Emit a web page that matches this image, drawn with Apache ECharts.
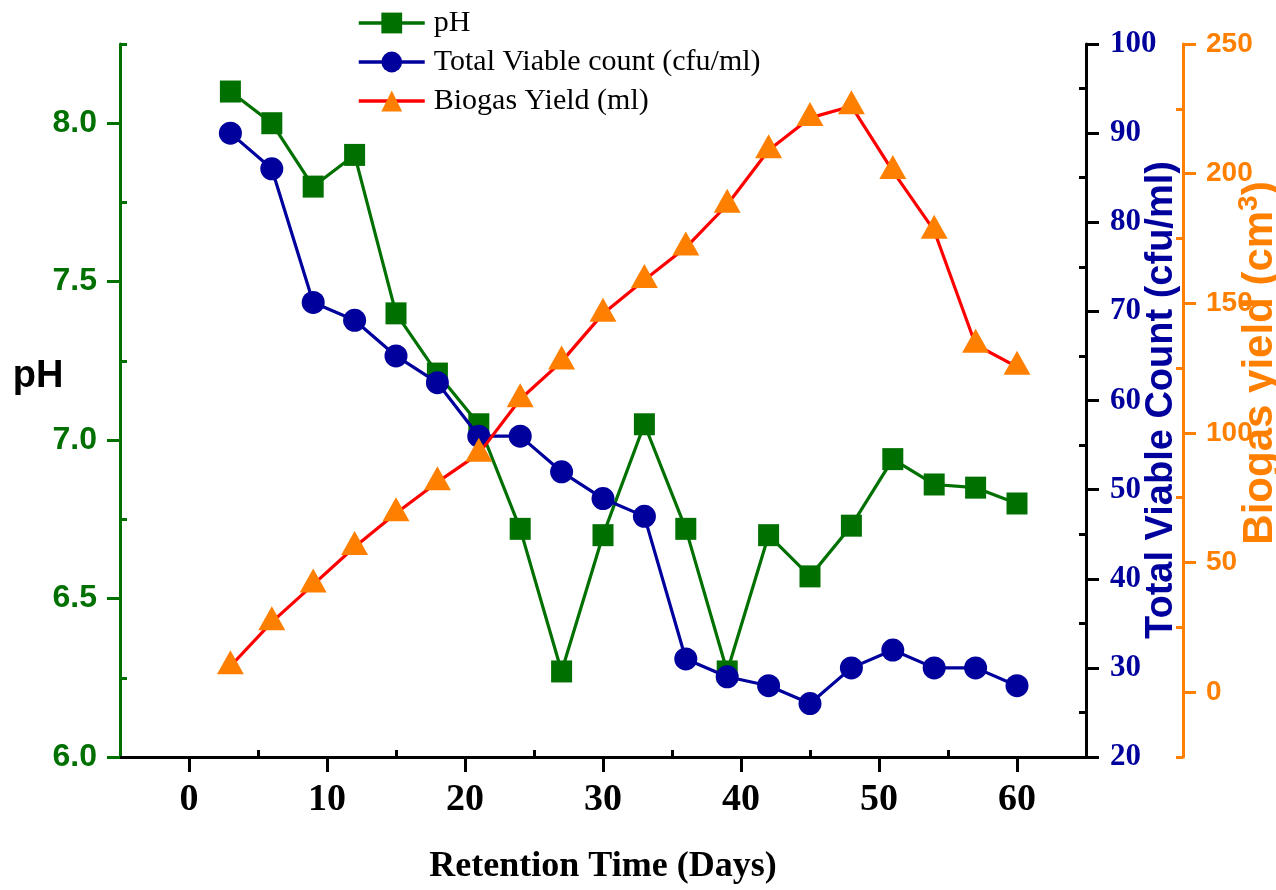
<!DOCTYPE html>
<html>
<head>
<meta charset="utf-8">
<script src="https://cdn.jsdelivr.net/npm/echarts@6/dist/echarts.min.js"></script>
<style>
html,body{margin:0;padding:0;background:#fff;}
#chart{width:1276px;height:890px;}
</style>
</head>
<body>
<div id="chart"></div>
<script>
// ---- data ----
const days = [3, 6, 9, 12, 15, 18, 21, 24, 27, 30, 33, 36, 39, 42, 45, 48, 51, 54, 57, 60];
const phValues = [8.10, 8.00, 7.80, 7.90, 7.40, 7.21, 7.05, 6.72, 6.27, 6.70, 7.05, 6.72, 6.27, 6.70, 6.57, 6.73, 6.94, 6.86, 6.85, 6.80];
const tvcValues = [90, 86, 71, 69, 65, 62, 56, 56, 52, 49, 47, 31, 29, 28, 26, 30, 32, 30, 30, 28];
const biogasValues = [10, 27, 41.5, 56, 69, 81, 92, 113, 127.5, 146, 159, 171.5, 188, 209, 221.5, 226, 201, 178, 134, 125.5];

const seriesNames = ['pH', 'Total Viable count (cfu/ml)', 'Biogas Yield (ml)'];
const xMajorTicks = [0, 10, 20, 30, 40, 50, 60];
const xMinorTicks = [5, 15, 25, 35, 45, 55];
const phMajorTicks = [6.0, 6.5, 7.0, 7.5, 8.0];
const phMinorTicks = [6.25, 6.75, 7.25, 7.75, 8.25];
const tvcMajorTicks = [20, 30, 40, 50, 60, 70, 80, 90, 100];
const tvcMinorTicks = [25, 35, 45, 55, 65, 75, 85, 95];
const bioMajorTicks = [0, 50, 100, 150, 200, 250];
const bioMinorTicks = [-25, 25, 75, 125, 175, 225];

const titles = {
  x: 'Retention Time (Days)',
  ph: 'pH',
  tvc: 'Total Viable Count (cfu/ml)',
  bio: 'Biogas yield (cm'
};

// ---- styles ----
const GREEN = '#007000';
const NAVY = '#00009C';
const ORANGE = '#FF8000';
const RED = '#FF0000';
const SERIF = 'Liberation Serif';
const SANS = 'Liberation Sans';

const chart = echarts.init(document.getElementById('chart'), null, {renderer: 'canvas'});

const option = {
  animation: false,
  backgroundColor: '#fff',
  grid: {left: 120, right: 190, top: 44, bottom: 133, containLabel: false},
  legend: {
    orient: 'vertical',
    left: 357,
    top: 8,
    padding: 0,
    itemWidth: 66,
    itemHeight: 26,
    itemGap: 9,
    data: seriesNames,
    lineStyle: {width: 3.5},
    textStyle: {fontFamily: SERIF, fontSize: 30, color: '#000', lineHeight: 30, padding: [0, 0, 0, 4]}
  },
  xAxis: [
    {
      type: 'value', min: -5, max: 65, position: 'bottom',
      axisLine: {show: true, onZero: false, lineStyle: {color: '#000', width: 3}},
      axisTick: {show: true, customValues: xMajorTicks, length: 15, lineStyle: {color: '#000', width: 3}},
      axisLabel: {show: true, customValues: xMajorTicks, margin: 24, color: '#000', fontFamily: SERIF, fontWeight: 'bold', fontSize: 38},
      splitLine: {show: false}
    },
    {
      type: 'value', min: -5, max: 65, position: 'bottom',
      axisLine: {show: false, onZero: false},
      axisTick: {show: true, inside: true, customValues: xMinorTicks, length: 7, lineStyle: {color: '#000', width: 3}},
      axisLabel: {show: false},
      splitLine: {show: false}
    }
  ],
  yAxis: [
    {
      type: 'value', min: 6, max: 8.25, position: 'left',
      axisLine: {show: true, onZero: false, lineStyle: {color: GREEN, width: 3}},
      axisTick: {show: true, customValues: phMajorTicks, length: 13, lineStyle: {color: GREEN, width: 3}},
      axisLabel: {show: true, customValues: phMajorTicks, margin: 23, color: GREEN, fontFamily: SANS, fontWeight: 'bold', fontSize: 32,
        formatter: v => Number(v).toFixed(1)},
      splitLine: {show: false}
    },
    {
      type: 'value', min: 6, max: 8.25, position: 'left',
      axisLine: {show: false, onZero: false},
      axisTick: {show: true, inside: true, customValues: phMinorTicks, length: 7, lineStyle: {color: GREEN, width: 3}},
      axisLabel: {show: false},
      splitLine: {show: false}
    },
    {
      type: 'value', min: 20, max: 100, position: 'right', offset: 0,
      axisLine: {show: true, onZero: false, lineStyle: {color: '#000', width: 3}},
      axisTick: {show: true, customValues: tvcMajorTicks, length: 13, lineStyle: {color: '#000', width: 3}},
      axisLabel: {show: true, customValues: tvcMajorTicks, margin: 24, color: NAVY, fontFamily: SERIF, fontWeight: 'bold', fontSize: 31},
      splitLine: {show: false}
    },
    {
      type: 'value', min: 20, max: 100, position: 'right', offset: 0,
      axisLine: {show: false, onZero: false},
      axisTick: {show: true, inside: true, customValues: tvcMinorTicks, length: 7, lineStyle: {color: '#000', width: 3}},
      axisLabel: {show: false},
      splitLine: {show: false}
    },
    {
      type: 'value', min: -25, max: 250, position: 'right', offset: 97,
      axisLine: {show: true, onZero: false, lineStyle: {color: ORANGE, width: 3}},
      axisTick: {show: true, customValues: bioMajorTicks, length: 13, lineStyle: {color: ORANGE, width: 3}},
      axisLabel: {show: true, customValues: bioMajorTicks, margin: 23, color: ORANGE, fontFamily: SANS, fontWeight: 'bold', fontSize: 28},
      splitLine: {show: false}
    },
    {
      type: 'value', min: -25, max: 250, position: 'right', offset: 97,
      axisLine: {show: false, onZero: false},
      axisTick: {show: true, inside: true, customValues: bioMinorTicks, length: 7, lineStyle: {color: ORANGE, width: 3}},
      axisLabel: {show: false},
      splitLine: {show: false}
    }
  ],
  series: [
    {
      name: seriesNames[0], type: 'line', xAxisIndex: 0, yAxisIndex: 0,
      data: days.map((d, i) => [d, phValues[i]]),
      symbol: 'rect', symbolSize: [21, 22],
      itemStyle: {color: GREEN},
      lineStyle: {color: GREEN, width: 3.2},
      z: 2
    },
    {
      name: seriesNames[1], type: 'line', xAxisIndex: 0, yAxisIndex: 2,
      data: days.map((d, i) => [d, tvcValues[i]]),
      symbol: 'circle', symbolSize: 23,
      itemStyle: {color: NAVY},
      lineStyle: {color: NAVY, width: 3.2},
      z: 3
    },
    {
      name: seriesNames[2], type: 'line', xAxisIndex: 0, yAxisIndex: 4,
      data: days.map((d, i) => [d, biogasValues[i]]),
      symbol: 'triangle', symbolSize: [27, 24], symbolOffset: [0, -4],
      itemStyle: {color: ORANGE},
      lineStyle: {color: RED, width: 3.2},
      z: 4
    }
  ],
  graphic: [
    {type: 'text', x: 603, y: 867, z: 10,
      style: {text: titles.x, fill: '#000', font: 'bold 36px "Liberation Serif"', align: 'center', verticalAlign: 'middle'}},
    {type: 'text', x: 38, y: 377, z: 10,
      style: {text: titles.ph, fill: '#000', font: 'bold 38px "Liberation Sans"', align: 'center', verticalAlign: 'middle'}},
    {type: 'text', x: 1162, y: 400, rotation: Math.PI / 2, z: 10,
      style: {text: titles.tvc, fill: NAVY, font: 'bold 38px "Liberation Sans"', align: 'center', verticalAlign: 'middle'}},
    {type: 'text', x: 1258, y: 363, rotation: Math.PI / 2, z: 10,
      style: {text: '{a|' + titles.bio + '}{s|3}{a|)}', align: 'center', verticalAlign: 'middle',
        rich: {
          a: {fill: ORANGE, fontFamily: SANS, fontWeight: 'bold', fontSize: 42, lineHeight: 46, verticalAlign: 'bottom'},
          s: {fill: ORANGE, fontFamily: SANS, fontWeight: 'bold', fontSize: 28, lineHeight: 46, verticalAlign: 'top'}
        }}}
  ]
};

chart.setOption(option);
</script>
</body>
</html>
